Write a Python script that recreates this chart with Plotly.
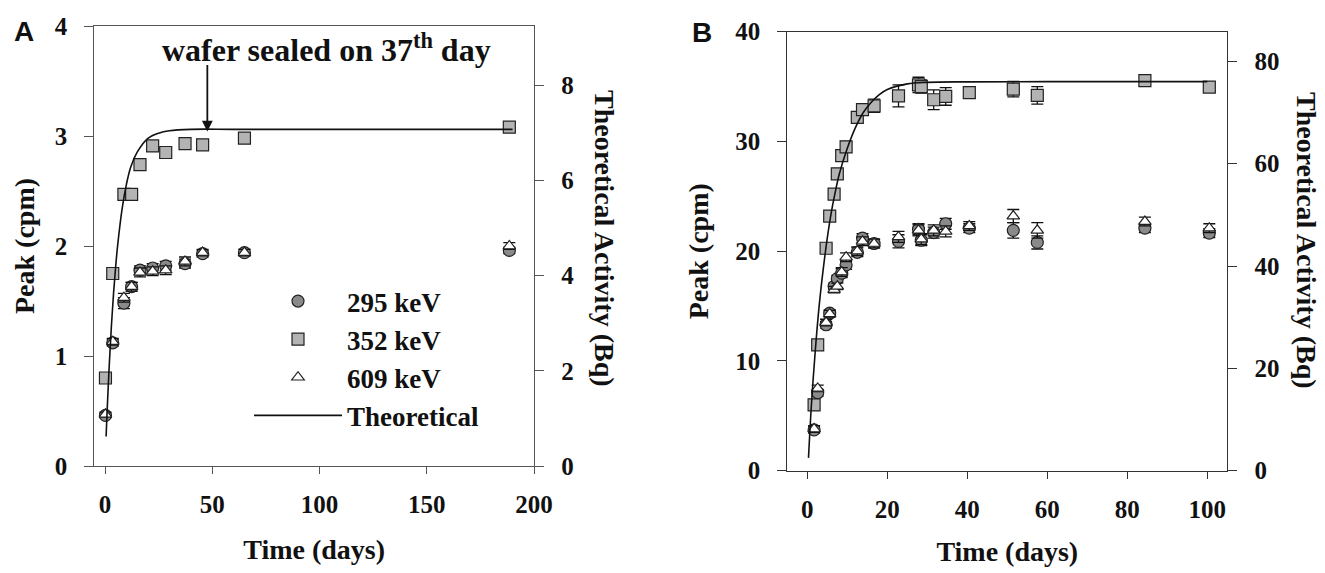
import plotly.graph_objects as go

# ---------------- data: panel A ----------------
a_days = [0.2, 3.6, 8.8, 12.4, 16.3, 22.2, 28.3, 37.3, 45.5, 65.0, 188.5]
a_295 = [0.46, 1.12, 1.48, 1.63, 1.78, 1.80, 1.82, 1.84, 1.93, 1.94, 1.96]
a_352 = [0.80, 1.75, 2.47, 2.47, 2.74, 2.91, 2.85, 2.93, 2.92, 2.98, 3.08]
a_609 = [0.47, 1.13, 1.53, 1.63, 1.76, 1.77, 1.78, 1.86, 1.94, 1.94, 2.00]
a_295_err = [0.02, 0.03, 0.05, 0.04, 0.04, 0.04, 0.04, 0.04, 0.03, 0.03, 0.03]
a_352_err = [0.02, 0.03, 0.04, 0.04, 0.03, 0.04, 0.04, 0.04, 0.03, 0.03, 0.04]
a_609_err = [0.02, 0.03, 0.04, 0.04, 0.04, 0.04, 0.04, 0.04, 0.03, 0.03, 0.03]
a_theo_days = [0.5, 1, 2, 3, 4, 5, 6, 8, 10, 12, 15, 20, 25, 30, 40, 60, 100, 190]
a_theo_bq = [0.62, 1.17, 2.14, 2.96, 3.64, 4.21, 4.68, 5.41, 5.92, 6.28, 6.59, 6.88, 6.99, 7.04, 7.07, 7.07, 7.07, 7.07]

# ---------------- data: panel B ----------------
b_days = [1.7, 2.6, 4.7, 5.6, 6.7, 7.5, 8.6, 9.7, 12.5, 13.8, 16.7, 22.8, 27.8, 28.5,
          31.6, 34.6, 40.5, 51.5, 57.5, 84.4, 100.5]
b_295 = [3.72, 7.1, 13.3, 14.35, 16.8, 17.5, 18.0, 18.75, 19.9, 21.2, 20.7, 20.9, 22.0, 21.0,
         21.7, 22.5, 22.1, 21.9, 20.8, 22.1, 21.65]
b_352 = [5.99, 11.46, 20.27, 23.2, 25.2, 27.05, 28.7, 29.5, 32.2, 32.9, 33.25, 34.15, 35.15, 35.0,
         33.8, 34.1, 34.45, 34.77, 34.2, 35.55, 34.95]
b_609 = [3.8, 7.5, 13.5, 14.3, 16.5, 16.8, 18.1, 19.45, 20.0, 20.9, 20.7, 21.3, 21.9, 21.1,
         21.9, 21.8, 22.3, 23.2, 21.9, 22.7, 22.1]
b_295_err = [0.3, 0.3, 0.3, 0.3, 0.3, 0.3, 0.4, 0.4, 0.4, 0.4, 0.4, 0.6, 0.5, 0.5,
             0.5, 0.5, 0.4, 0.7, 0.6, 0.4, 0.4]
b_352_err = [0.3, 0.3, 0.3, 0.3, 0.3, 0.3, 0.5, 0.5, 0.4, 0.4, 0.6, 1.0, 0.7, 0.6,
             0.9, 0.8, 0.5, 0.7, 0.8, 0.5, 0.4]
b_609_err = [0.3, 0.3, 0.3, 0.3, 0.3, 0.3, 0.4, 0.4, 0.4, 0.4, 0.4, 0.5, 0.5, 0.5,
             0.5, 0.5, 0.4, 0.6, 0.7, 0.4, 0.4]
b_theo_days = [0.3, 1, 2, 3, 4, 5, 6, 7, 8, 10, 12, 14, 16, 18, 20, 25, 30, 40, 60, 100]
b_theo_bq = [2.5, 12.5, 23.5, 32.5, 39.5, 45.5, 50.5, 54.5, 58.0, 63.0, 67.0, 70.0, 72.0, 73.5,
             74.5, 75.6, 75.9, 76.0, 76.05, 76.05]

series_names = ["295 keV", "352 keV", "609 keV"]

SERIF = "Liberation Serif"
SANS = "Liberation Sans"
INK = "#111111"

styles = {
    "295 keV": dict(symbol="circle", size=12, color="#8a8a8a"),
    "352 keV": dict(symbol="square", size=12, color="#b3b3b3"),
    "609 keV": dict(symbol="triangle-up", size=11, color="#ffffff"),
}

fig = go.Figure()

def add_series(days, vals, errs, name, xaxis, yaxis, showlegend):
    st = styles[name]
    fig.add_trace(go.Scatter(
        x=days, y=vals, mode="markers", name=name,
        xaxis=xaxis, yaxis=yaxis, showlegend=showlegend,
        marker=dict(symbol=st["symbol"], size=st["size"], color=st["color"],
                    line=dict(color="#222222", width=1.2)),
        error_y=dict(type="data", array=errs, visible=True, color="#111111",
                     thickness=1.3, width=6),
    ))

# Panel A
for vals, errs, name in [(a_295, a_295_err, "295 keV"), (a_352, a_352_err, "352 keV"),
                         (a_609, a_609_err, "609 keV")]:
    add_series(a_days, vals, errs, name, "x", "y", True)
fig.add_trace(go.Scatter(x=a_theo_days, y=a_theo_bq, mode="lines", name="Theoretical",
                         xaxis="x", yaxis="y2", line=dict(color="#111111", width=1.6, shape="spline"),
                         showlegend=True))

# Panel B
for vals, errs, name in [(b_295, b_295_err, "295 keV"), (b_352, b_352_err, "352 keV"),
                         (b_609, b_609_err, "609 keV")]:
    add_series(b_days, vals, errs, name, "x2", "y3", False)
fig.add_trace(go.Scatter(x=b_theo_days, y=b_theo_bq, mode="lines", name="Theoretical",
                         xaxis="x2", yaxis="y4", line=dict(color="#111111", width=1.6, shape="spline"),
                         showlegend=False))

# page is offset by the default 8px body margin
OFF = 8
W, H = 1325 - OFF, 573 - OFF
ML, MR, MT, MB = 80, 80, 15, 90
PW = W - ML - MR
PH = H - MT - MB

def px(x):
    return (x - OFF - ML) / PW

def py(y):
    return (H - MB - (y - OFF)) / PH

tickfont = dict(family=SERIF, size=25, color=INK, weight="bold")
titlefont = dict(family=SERIF, size=28, color=INK, weight="bold")
axA = "#555555"
axB = "#333333"

def xaxis_cfg(domain, rng, dtick, anchor, col, standoff):
    return dict(domain=domain, range=rng, dtick=dtick, tick0=0, anchor=anchor,
                showgrid=False, zeroline=False, showline=True, linecolor=col, linewidth=1.3,
                mirror=True, ticks="outside", ticklen=7, tickwidth=1.3, tickcolor=col,
                tickfont=tickfont, ticklabelstandoff=9, automargin=False,
                title=dict(text="Time (days)", font=titlefont, standoff=standoff))

def yaxis_cfg(domain, rng, dtick, anchor, col, side="left", overlaying=None, title=None, standoff=14):
    d = dict(domain=domain, range=rng, dtick=dtick, tick0=0, anchor=anchor, side=side,
             showgrid=False, zeroline=False, showline=True, linecolor=col, linewidth=1.3,
             ticks="outside", ticklen=9, tickwidth=1.3, tickcolor=col,
             tickfont=tickfont, ticklabelstandoff=12, automargin=False)
    if overlaying:
        d["overlaying"] = overlaying
    if title:
        d["title"] = dict(text=title, font=titlefont, standoff=standoff)
    return d

xA = [px(94.3), px(534)]
yA = [py(466), py(26)]
xB = [px(787.3), px(1227.3)]
yB = [py(470.7), py(31.7)]

fig.update_layout(
    width=W, height=H,
    margin=dict(l=ML, r=MR, t=MT, b=MB, autoexpand=False),
    paper_bgcolor="white", plot_bgcolor="rgba(0,0,0,0)",
    font=dict(family=SERIF, color=INK),
    xaxis=xaxis_cfg(xA, [-5, 200], 50, "y", axA, 22),
    yaxis=yaxis_cfg(yA, [0, 4], 1, "x", axA, title="Peak (cpm)", standoff=11),
    yaxis2=yaxis_cfg(yA, [0, 9.24], 2, "x", axA, side="right", overlaying="y"),
    xaxis2=xaxis_cfg(xB, [-5, 105], 20, "y3", axB, 19),
    yaxis3=yaxis_cfg(yB, [0, 40], 10, "x2", axB, title="Peak (cpm)", standoff=18),
    yaxis4=yaxis_cfg(yB, [0, 85.8], 20, "x2", axB, side="right", overlaying="y3"),
    legend=dict(x=px(249), y=py(277), xanchor="left", yanchor="top",
                bgcolor="rgba(0,0,0,0)", itemwidth=88,
                font=dict(family=SERIF, size=27, color=INK, weight="bold"),
                tracegroupgap=0, itemsizing="trace"),
    showlegend=True,
)

def paper_text(x, y, text, font, angle=0):
    fig.add_annotation(x=px(x), y=py(y), xref="paper", yref="paper", text=text,
                       textangle=angle, showarrow=False, font=font,
                       xanchor="center", yanchor="middle")

# right axis titles (read top-to-bottom)
paper_text(604, 238, "Theoretical Activity (Bq)", titlefont, 90)
paper_text(1307, 240, "Theoretical Activity (Bq)", titlefont, 90)

# panel letters
letterfont = dict(family=SANS, size=28, color=INK, weight="bold")
paper_text(24, 31, "A", letterfont)
paper_text(702, 32, "B", letterfont)

# wafer sealed annotation
fig.add_annotation(x=103.4, y=3.80, xref="x", yref="y", text="wafer sealed on 37<sup>th</sup> day",
                   showarrow=False, xanchor="center", yanchor="middle",
                   font=dict(family=SERIF, size=32, color=INK, weight="bold"))
fig.add_annotation(x=47.7, y=3.04, xref="x", yref="y", ax=47.7, ay=3.66, axref="x", ayref="y",
                   text="", showarrow=True, arrowhead=2, arrowsize=1.2, arrowwidth=1.8,
                   arrowcolor=INK)

fig.write_html("out.html")
